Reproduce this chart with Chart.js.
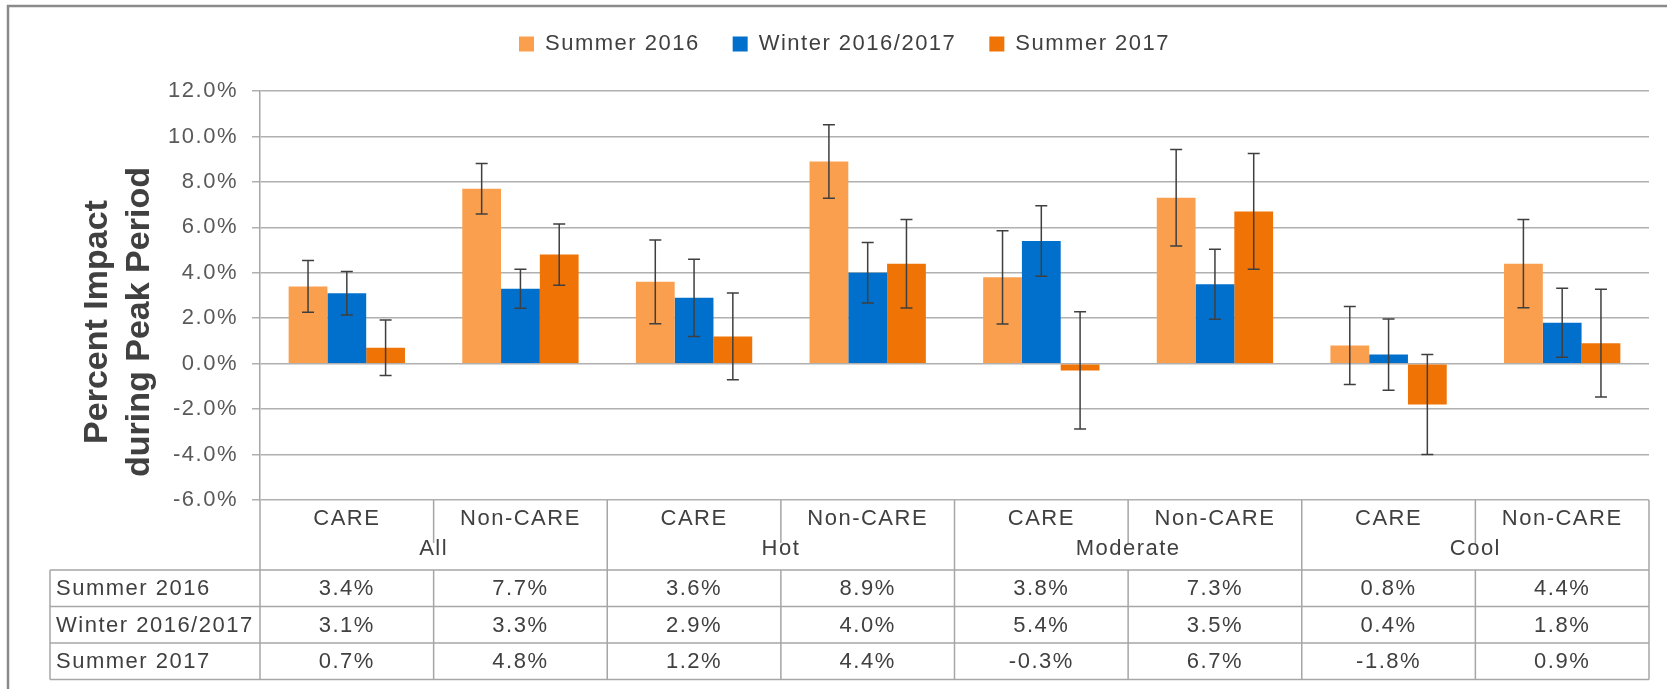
<!DOCTYPE html>
<html>
<head>
<meta charset="utf-8">
<script src="https://cdn.jsdelivr.net/npm/chart.js@4.4.0/dist/chart.umd.min.js"></script>
<style>
    html, body { margin: 0; padding: 0; background: #fff; }
    #contenedor { width: 1667px; height: 689px; }
</style>
</head>
<body>
<div id="contenedor"><canvas id="grafica"></canvas></div>
<script>
// datos
const categorias = ['CARE', 'Non-CARE', 'CARE', 'Non-CARE', 'CARE', 'Non-CARE', 'CARE', 'Non-CARE'];
const grupos = ['All', 'Hot', 'Moderate', 'Cool'];
const series = ['Summer 2016', 'Winter 2016/2017', 'Summer 2017'];

const verano2016 = [3.4, 7.7, 3.6, 8.9, 3.8, 7.3, 0.8, 4.4];
const invierno2017 = [3.1, 3.3, 2.9, 4.0, 5.4, 3.5, 0.4, 1.8];
const verano2017 = [0.7, 4.8, 1.2, 4.4, -0.3, 6.7, -1.8, 0.9];

// margen de error (+/-) de cada barra
const errVerano2016 = [1.14, 1.11, 1.84, 1.62, 2.05, 2.12, 1.72, 1.94];
const errInvierno2017 = [0.96, 0.86, 1.70, 1.33, 1.55, 1.54, 1.57, 1.52];
const errVerano2017 = [1.22, 1.35, 1.91, 1.95, 2.58, 2.55, 2.20, 2.37];

const ejeMin = -6;
const ejeMax = 12;
const ejePaso = 2;
const tituloEje = ['Percent Impact', 'during Peak Period'];

const colores = ['#F99F4E', '#0070CC', '#F07306'];
const valores = [verano2016, invierno2017, verano2017];
const errores = [errVerano2016, errInvierno2017, errVerano2017];

const fuente = "'Liberation Sans', Arial, sans-serif";
Chart.defaults.font.family = fuente;

const formato = v => v.toFixed(1) + '%';

const espaciado = {
    id: 'espaciado',
    beforeInit(chart) {
        const fitOriginal = chart.legend.fit;
        chart.legend.fit = function () {
            fitOriginal.call(this);
            this.height = 91;
        };
    },
    beforeLayout(chart) {
        chart.ctx.letterSpacing = '1.5px';
    },
    beforeDraw(chart) {
        chart.ctx.letterSpacing = '1.5px';
    }
};

const barrasError = {
    id: 'barrasError',
    afterDatasetsDraw(chart) {
        const ctx = chart.ctx;
        const y = chart.scales.y;
        ctx.save();
        ctx.strokeStyle = '#3f3f3f';
        ctx.lineWidth = 1.5;
        chart.data.datasets.forEach((ds, i) => {
            const meta = chart.getDatasetMeta(i);
            meta.data.forEach((barra, j) => {
                const v = ds.data[j];
                const e = errores[i][j];
                const yArriba = y.getPixelForValue(v + e);
                const yAbajo = y.getPixelForValue(v - e);
                ctx.beginPath();
                ctx.moveTo(barra.x, yArriba);
                ctx.lineTo(barra.x, yAbajo);
                ctx.moveTo(barra.x - 6, yArriba);
                ctx.lineTo(barra.x + 6, yArriba);
                ctx.moveTo(barra.x - 6, yAbajo);
                ctx.lineTo(barra.x + 6, yAbajo);
                ctx.stroke();
            });
        });
        ctx.restore();
    }
};

const tabla = {
    id: 'tabla',
    afterDraw(chart) {
        const ctx = chart.ctx;
        const xs = chart.scales.x;
        const area = chart.chartArea;
        const paso = xs.getPixelForValue(1) - xs.getPixelForValue(0);
        const y0 = area.bottom;
        const yFila = y0 + 70;
        const altoFila = 36.5;
        const yFin = yFila + altoFila * series.length;
        const xIzq = 50;

        ctx.save();
        ctx.strokeStyle = '#a6a6a6';
        ctx.lineWidth = 1.5;
        ctx.beginPath();
        ctx.moveTo(area.left, y0);
        ctx.lineTo(area.left, yFin);
        ctx.moveTo(xIzq, yFila);
        ctx.lineTo(xIzq, yFin);
        for (let i = 1; i <= categorias.length; i++) {
            const xb = xs.getPixelForValue(i - 1) + paso / 2;
            if (i % 2 === 0) {
                ctx.moveTo(xb, y0);
                ctx.lineTo(xb, yFin);
            } else {
                ctx.moveTo(xb, y0);
                ctx.lineTo(xb, y0 + 43);
                ctx.moveTo(xb, yFila);
                ctx.lineTo(xb, yFin);
            }
        }
        for (let k = 0; k <= series.length; k++) {
            const yl = yFila + k * altoFila;
            ctx.moveTo(xIzq, yl);
            ctx.lineTo(area.right, yl);
        }
        ctx.stroke();

        ctx.fillStyle = '#404040';
        ctx.font = '22px ' + fuente;
        ctx.textBaseline = 'middle';
        ctx.textAlign = 'center';
        categorias.forEach((c, i) => {
            ctx.fillText(c, xs.getPixelForValue(i), y0 + 19);
        });
        grupos.forEach((g, i) => {
            const xc = (xs.getPixelForValue(2 * i) + xs.getPixelForValue(2 * i + 1)) / 2;
            ctx.fillText(g, xc, y0 + 49);
        });
        series.forEach((s, r) => {
            const yc = yFila + altoFila * (r + 0.5) + 1;
            ctx.textAlign = 'left';
            ctx.fillText(s, xIzq + 6, yc);
            ctx.textAlign = 'center';
            valores[r].forEach((v, i) => {
                ctx.fillText(formato(v), xs.getPixelForValue(i), yc);
            });
        });

        // titulo del eje y
        ctx.letterSpacing = '0px';
        ctx.font = 'bold 34px ' + fuente;
        ctx.textBaseline = 'alphabetic';
        ctx.translate(0, 322);
        ctx.rotate(-Math.PI / 2);
        ctx.fillText(tituloEje[0], 0, 107);
        ctx.fillText(tituloEje[1], 0, 149);
        ctx.restore();

        // marco
        ctx.save();
        ctx.strokeStyle = '#8a8a8a';
        ctx.lineWidth = 2.5;
        ctx.beginPath();
        ctx.moveTo(8, 700);
        ctx.lineTo(8, 6);
        ctx.lineTo(1680, 6);
        ctx.stroke();
        ctx.restore();
    }
};

const instancia = document.getElementById('grafica').getContext('2d');
const myChart = new Chart(instancia, {
    type: 'bar',
    data: {
        labels: categorias,
        datasets: series.map((s, i) => ({
            label: s,
            data: valores[i],
            backgroundColor: colores[i],
            borderWidth: 0,
            categoryPercentage: 0.67,
            barPercentage: 1.0
        }))
    },
    options: {
        responsive: true,
        maintainAspectRatio: false,
        animation: false,
        devicePixelRatio: 1,
        layout: {
            padding: { left: 40, top: 0, right: 18, bottom: 189 }
        },
        plugins: {
            legend: {
                position: 'top',
                labels: {
                    boxWidth: 15,
                    boxHeight: 15,
                    padding: 33,
                    color: '#404040',
                    font: { size: 22 }
                }
            },
            tooltip: { enabled: false }
        },
        scales: {
            x: {
                display: false
            },
            y: {
                min: ejeMin,
                max: ejeMax,
                afterFit: s => { s.width = 220; },
                ticks: {
                    stepSize: ejePaso,
                    padding: 14,
                    color: '#595959',
                    font: { size: 22 },
                    callback: v => formato(v)
                },
                grid: {
                    color: '#b0b0b0',
                    lineWidth: 1.5,
                    tickLength: 8
                },
                border: {
                    color: '#a6a6a6',
                    width: 1.5
                }
            }
        }
    },
    plugins: [espaciado, barrasError, tabla]
});
</script>
</body>
</html>
